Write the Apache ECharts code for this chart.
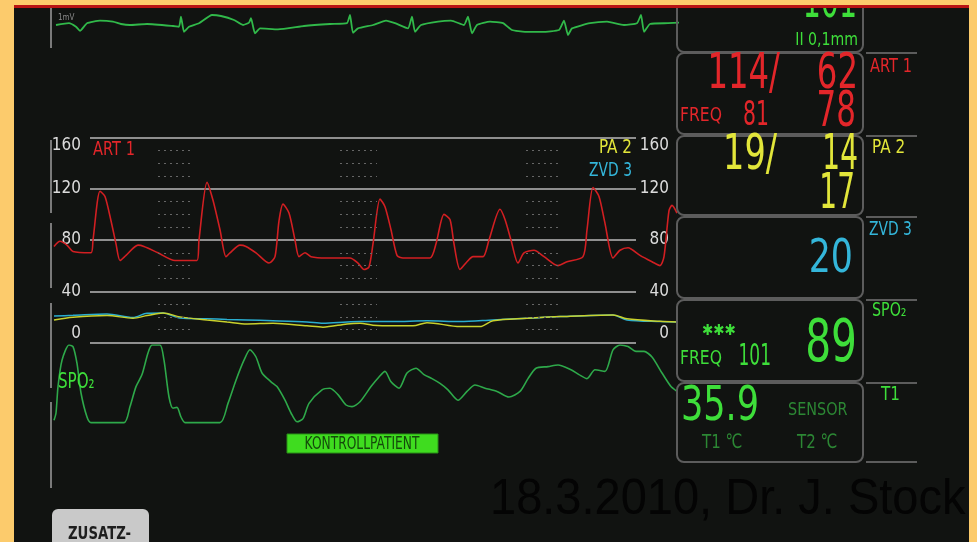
<!DOCTYPE html>
<html>
<head>
<meta charset="utf-8">
<style>
  html, body { margin: 0; padding: 0; background: #fccb6c; }
  #chart { width: 977px; height: 542px; }
</style>
<script src="https://cdn.jsdelivr.net/npm/echarts@6/dist/echarts.min.js"></script>
</head>
<body>
<div id="chart"></div>
<script>
// ECG lead II, time in screen samples, value in mV
const ecgTime = [16,29,36,40,47,60,73,81,90,107,133,139,141,144,149,159,172,181,194,203,209,211,215,220,238,264,290,307,310,313,318,333,346,355,368,372,375,381,398,411,424,428,432,437,450,463,472,485,502,519,524,528,532,550,567,584,597,601,604,610,628,639];
const ecgMv = [0,0.09,-0.09,-0.29,0.09,0.22,0.17,0.05,0,0.05,-0.05,-0.09,0.42,-0.34,-0.09,0.09,0.5,0.45,0.25,0,0.12,0.34,-0.42,-0.17,-0.22,-0.05,0.05,0.09,0.5,-0.39,-0.17,0,0.22,0.09,-0.17,0.42,-0.34,0,0.17,0.22,0,0.42,-0.42,0,0.17,0.09,-0.25,-0.34,-0.34,-0.25,0.22,-0.5,-0.17,0.09,0.17,0,0.09,0.5,-0.34,0.05,0.09,0.12];

// ART 1 (mmHg)
const artTime = [14,20,27,33,51,53,60,65,71,76,80,86,98,104,118,135,157,159,167,173,180,186,190,200,206,216,229,235,239,243,249,255,259,265,271,286,310,318,324,329,333,340,345,351,357,363,390,396,404,410,414,420,427,433,443,449,460,465,471,478,484,494,504,518,527,543,547,553,559,565,573,580,588,600,612,620,624,629,632,637];
const artMmHg = [75,79,76,71,70,80,118,114,95,77,64,68,76,75,70,64,64,80,125,111,88,67,70,76,75,70,62,67,95,108,101,80,67,70,67,66,66,62,57,59,77,112,106,88,68,66,66,77,100,96,77,57,63,67,67,80,104,96,80,62,70,72,67,60,63,67,88,121,114,93,66,72,74,68,63,60,67,103,107,101];

// PA 2 (mmHg)
const paTime = [14,33,67,93,107,123,140,167,187,207,233,267,283,307,320,333,353,373,387,420,440,453,487,520,573,587,620,637];
const paMmHg = [17.6,19.7,21,19,21,23,20,17.6,16,14.5,15,13,12,14.5,15,13.5,13,13,15.5,12.4,12.4,17,18.9,20.2,21.5,18.5,16.5,16];

// ZVD 3 (mmHg)
const zvdTime = [14,33,67,93,107,123,140,167,187,207,233,267,283,307,320,353,387,420,453,487,520,573,587,620,637];
const zvdMmHg = [20.7,21.2,22.3,19.5,22.8,23,19.1,18.5,18,17.6,17,16,15,16,16.3,16.3,17,16.3,17.6,18.9,20.2,21.5,17.6,16.3,16];

// SpO2 plethysmogram (relative amplitude, %)
const plethTime = [14,16,18,22,29,33,37,41,47,51,84,90,96,102,108,112,120,124,129,133,137,141,145,180,188,196,204,210,216,222,231,237,245,251,257,263,269,282,290,298,306,312,320,331,339,345,351,359,367,376,384,392,400,408,418,427,435,445,457,469,480,488,496,508,518,531,539,547,555,565,573,580,588,596,604,612,622,631,637];
const plethValue = [6,15,48,81,100,98,77,40,10,3,3,23,48,63,90,100,100,81,35,21,22,10,3,3,27,56,81,94,85,65,54,48,31,15,4,8,27,44,46,38,25,23,29,48,60,67,54,46,65,71,63,58,52,44,31,42,50,46,42,35,42,58,71,73,75,69,63,58,69,67,94,100,98,92,92,85,65,48,42];

// pressure scale
const pressureMin = 0;
const pressureMax = 160;
const pressureStep = 40;

// numeric readouts
const hrEcg = '101';
const artReadout = ['114/', '62', '78'];
const artRate = '81';
const paReadout = ['19/', '14', '17'];
const zvdReadout = '20';
const spo2Readout = '89';
const spo2Rate = '101';
const tempReadout = '35.9';

// dotted minor marks
const dotGroups = [[118, 153], [300, 337], [486, 520]];
const dotLevels = [10, 20, 30, 50, 60, 70, 90, 100, 110, 130, 140, 150];

const zip = (a, b) => a.map((t, i) => [t, b[i]]);

const RED = '#e3262a';
const YEL = '#e2e63a';
const CYAN = '#34b6da';
const GRN = '#3ede3a';
const DIM = '#2c8734';
const FONT = '"DejaVu Sans", sans-serif';

function txt(x, y, text, color, size, sx, align, weight) {
    return {
        type: 'text', x: x, y: y, scaleX: sx, z: 20,
        style: {
            text: text, fill: color,
            font: (weight || 'normal') + ' ' + size + 'px ' + FONT,
            textAlign: align || 'left', align: align || 'left',
            textVerticalAlign: 'middle', verticalAlign: 'middle'
        }
    };
}
function box(x, y, w, h) {
    return {
        type: 'rect', z: 15,
        shape: { x: x, y: y, width: w, height: h, r: 7 },
        style: { fill: 'rgba(0,0,0,0)', stroke: '#5c5c5c', lineWidth: 2 }
    };
}
function pline(points, color, width) {
    return {
        type: 'polyline', z: 15,
        shape: { points: points },
        style: { fill: null, stroke: color || '#5c5c5c', lineWidth: width || 2 }
    };
}

const dotLines = [];
dotGroups.forEach(g => {
    dotLevels.forEach(v => {
        dotLines.push([{ coord: [g[0], v] }, { coord: [g[1], v] }]);
    });
});

const chart = echarts.init(document.getElementById('chart'));

const rowTops = [53, 136, 217, 300, 383];
const graphics = [
    // monitor frame
    { type: 'rect', z: 50, shape: { x: 0, y: 0, width: 14, height: 542 }, style: { fill: '#fccb6c' } },
    { type: 'rect', z: 50, shape: { x: 969, y: 0, width: 8, height: 542 }, style: { fill: '#fccb6c' } },
    { type: 'rect', z: 50, shape: { x: 0, y: 0, width: 977, height: 5 }, style: { fill: '#fccb6c' } },
    { type: 'rect', z: 50, shape: { x: 14, y: 5, width: 955, height: 3 }, style: { fill: '#b81414' } },

    // left brackets
    pline([[51, 8], [51, 48]], '#7a7a7a', 2),
    pline([[51, 140], [51, 213]], '#7a7a7a', 2),
    pline([[51, 223], [51, 288]], '#7a7a7a', 2),
    pline([[51, 303], [51, 388]], '#7a7a7a', 2),
    pline([[51, 402], [51, 488]], '#7a7a7a', 2),

    // readout boxes
    box(677, -20, 186, 72),
    box(677, 53, 186, 81),
    box(677, 136, 186, 79),
    box(677, 217, 186, 81),
    box(677, 300, 186, 81),
    box(677, 383, 186, 79),
    pline([[866, 462], [917, 462]]),

    // trace labels
    txt(58, 18, '1mV', '#8a8a8a', 9, 0.8),
    txt(93, 150, 'ART 1', RED, 19, 0.77),
    txt(632, 148, 'PA 2', YEL, 19, 0.8, 'right'),
    txt(632, 171, 'ZVD 3', CYAN, 19, 0.73, 'right'),
    txt(58, 383, 'SPO₂', GRN, 21, 0.72),

    // ECG readout
    txt(857, 4, hrEcg, GRN, 49, 0.58, 'right'),
    txt(858, 41, 'II 0,1mm', GRN, 17, 0.83, 'right'),
    // ART readout
    txt(780, 75, artReadout[0], RED, 49, 0.66, 'right'),
    txt(858, 75, artReadout[1], RED, 49, 0.66, 'right'),
    txt(680, 116, 'FREQ', RED, 20, 0.78),
    txt(769, 116, artRate, RED, 34, 0.6, 'right'),
    txt(856, 113, artReadout[2], RED, 50, 0.62, 'right'),
    txt(870, 67, 'ART 1', RED, 19, 0.77),
    // PA readout
    txt(777, 156, paReadout[0], YEL, 50, 0.67, 'right'),
    txt(858, 156, paReadout[1], YEL, 50, 0.56, 'right'),
    txt(855, 195, paReadout[2], YEL, 50, 0.56, 'right'),
    txt(872, 148, 'PA 2', YEL, 19, 0.8),
    // ZVD readout
    txt(853, 260, zvdReadout, CYAN, 47, 0.74, 'right'),
    txt(869, 230, 'ZVD 3', CYAN, 19, 0.73),
    // SpO2 readout
    txt(702, 331, '✱✱✱', GRN, 15, 0.9),
    txt(680, 359, 'FREQ', GRN, 20, 0.78),
    txt(771, 357, spo2Rate, GRN, 31, 0.55, 'right'),
    txt(857, 346, spo2Readout, GRN, 59, 0.69, 'right'),
    txt(872, 311, 'SPO₂', GRN, 19, 0.75),
    // temperature
    txt(681, 408, tempReadout, GRN, 48, 0.73),
    txt(788, 410, 'SENSOR', DIM, 18, 0.8),
    txt(702, 443, 'T1 ℃', DIM, 20, 0.75),
    txt(797, 443, 'T2 ℃', DIM, 20, 0.75),
    txt(881, 395, 'T1', GRN, 19, 0.8),

    // patient tag
    { type: 'rect', z: 18, shape: { x: 287, y: 434, width: 151, height: 19 }, style: { fill: '#3fdc1f', stroke: '#2b8f18', lineWidth: 1 } },
    txt(362, 444, 'KONTROLLPATIENT', '#14490b', 18, 0.68, 'center'),

    // button
    { type: 'rect', z: 18, shape: { x: 52, y: 509, width: 97, height: 45, r: 6 }, style: { fill: '#c9c9c9' } },
    txt(68, 535, 'ZUSATZ-', '#1e1e1e', 17, 0.78, 'left', 'bold'),

    // caption
    {
        type: 'text', x: 490, y: 500, scaleX: 0.94, z: 20,
        style: {
            text: '18.3.2010, Dr. J. Stock', fill: '#040404',
            font: '50px "Liberation Sans", Arial, sans-serif',
            textAlign: 'left', align: 'left', textVerticalAlign: 'middle', verticalAlign: 'middle'
        }
    }
];
rowTops.forEach(t => {
    graphics.push(pline([[866, t], [917, t]]));
});

const hidden = { show: false };

const option = {
    backgroundColor: '#111311',
    animation: false,
    grid: [
        { left: 54, top: 5, width: 623, height: 40, outerBoundsMode: 'none' },
        { left: 90, top: 137.5, width: 546, height: 205, outerBoundsMode: 'none' },
        { left: 54, top: 137.5, width: 623, height: 205, outerBoundsMode: 'none' },
        { left: 54, top: 345, width: 623, height: 80, outerBoundsMode: 'none' }
    ],
    xAxis: [
        { type: 'value', gridIndex: 0, min: 14, max: 637, ...hidden },
        { type: 'value', gridIndex: 1, min: 0, max: 1, ...hidden },
        { type: 'value', gridIndex: 2, min: 14, max: 637, ...hidden },
        { type: 'value', gridIndex: 3, min: 14, max: 637, ...hidden }
    ],
    yAxis: [
        { type: 'value', gridIndex: 0, min: -1, max: 1, ...hidden },
        {
            type: 'value', gridIndex: 1, position: 'left',
            min: pressureMin, max: pressureMax, interval: pressureStep,
            axisLine: { show: false }, axisTick: { show: false },
            axisLabel: {
                color: '#dcdcdc', fontSize: 17, margin: 9,
                fontFamily: '"Liberation Sans Narrow", "DejaVu Sans Condensed", sans-serif',
                verticalAlignMaxLabel: 'top', verticalAlignMinLabel: 'bottom'
            },
            splitLine: { show: true, lineStyle: { color: '#8f8f8f', width: 1.8 } }
        },
        {
            type: 'value', gridIndex: 1, position: 'right',
            min: pressureMin, max: pressureMax, interval: pressureStep,
            axisLine: { show: false }, axisTick: { show: false },
            axisLabel: {
                color: '#dcdcdc', fontSize: 17, margin: 33, align: 'right',
                fontFamily: '"Liberation Sans Narrow", "DejaVu Sans Condensed", sans-serif',
                verticalAlignMaxLabel: 'top', verticalAlignMinLabel: 'bottom'
            },
            splitLine: { show: false }
        },
        { type: 'value', gridIndex: 2, min: pressureMin, max: pressureMax, ...hidden },
        { type: 'value', gridIndex: 3, min: 0, max: 100, ...hidden }
    ],
    series: [
        {
            name: 'ECG', type: 'line', xAxisIndex: 0, yAxisIndex: 0,
            data: zip(ecgTime, ecgMv), showSymbol: false, smooth: 0.15,
            lineStyle: { color: '#31b94a', width: 1.8 }
        },
        {
            name: 'ART 1', type: 'line', xAxisIndex: 2, yAxisIndex: 3,
            data: zip(artTime, artMmHg), showSymbol: false, smooth: 0.25,
            lineStyle: { color: '#d21f22', width: 1.6 },
            markLine: {
                silent: true, symbol: ['none', 'none'], label: { show: false },
                lineStyle: { type: [2, 4], color: '#666', width: 1 },
                data: dotLines
            }
        },
        {
            name: 'ZVD 3', type: 'line', xAxisIndex: 2, yAxisIndex: 3,
            data: zip(zvdTime, zvdMmHg), showSymbol: false, smooth: 0.3,
            lineStyle: { color: '#2aaed0', width: 1.5 }
        },
        {
            name: 'PA 2', type: 'line', xAxisIndex: 2, yAxisIndex: 3,
            data: zip(paTime, paMmHg), showSymbol: false, smooth: 0.3,
            lineStyle: { color: '#c9d12c', width: 1.5 }
        },
        {
            name: 'SpO2', type: 'line', xAxisIndex: 3, yAxisIndex: 4,
            data: zip(plethTime, plethValue), showSymbol: false, smooth: 0.25,
            lineStyle: { color: '#2ea94a', width: 1.6 }
        }
    ],
    graphic: graphics
};

chart.setOption(option);
window.addEventListener('resize', () => chart.resize());
</script>
</body>
</html>
